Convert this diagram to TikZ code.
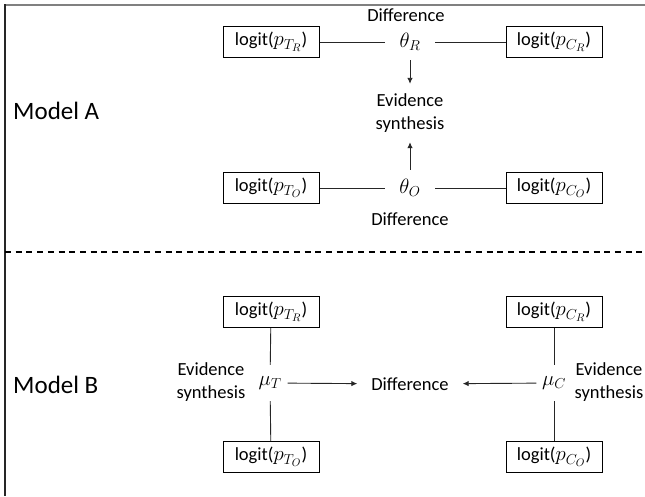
\documentclass[tikz,border=0pt]{standalone}
\usepackage{fontspec}
\setmainfont{Carlito}
\usetikzlibrary{arrows.meta}
\newcommand{\mth}[1]{{\fontsize{21}{23}\selectfont$#1$}}
\tikzset{
  txt/.style={font=\fontsize{18.5}{23}\selectfont, inner sep=0pt, align=center},
  lbox/.style={txt, draw=black, line width=1pt, minimum width=96pt, minimum height=31pt},
  pnode/.style={txt, minimum width=#1, minimum height=36pt},
  model/.style={font=\fontsize{25}{28}\selectfont, inner sep=0pt, anchor=west},
  conn/.style={draw=black!85, line width=0.9pt},
  arr/.style={conn, -{Latex[length=6pt,width=5.5pt]}},
}
\begin{document}
\begin{tikzpicture}[x=1pt,y=-1pt]
\useasboundingbox (0,0) rectangle (645,496);
% frame
\draw[black!50, line width=2pt] (4,5) -- (645,5);
\draw[black!85, line width=1.4pt] (5,4) -- (5,496);
\draw[black, line width=1.2pt, dash pattern=on 6pt off 4.7pt] (5,252) -- (645,252);

\node[model] (mA) at (13,111) {Model A};
\node[model] (mB) at (13,385) {Model B};

% Model A
\node[lbox] (aTR) at (271,42) {logit(\mth{p_{T_R}})};
\node[lbox] (aCR) at (554,42) {logit(\mth{p_{C_R}})};
\node[pnode=50pt] (thR) at (410,42) {\mth{\theta_R}};
\node[txt] (dR) at (406,15) {Difference};
\node[txt, minimum height=58pt] (ev) at (410,113) {Evidence\\synthesis};
\node[lbox] (aTO) at (271,188) {logit(\mth{p_{T_O}})};
\node[lbox] (aCO) at (554,188) {logit(\mth{p_{C_O}})};
\node[pnode=50pt] (thO) at (410,188) {\mth{\theta_O}};
\node[txt] (dO) at (410,219) {Difference};
\draw[conn] (aTR) -- (thR);
\draw[conn] (thR) -- (aCR);
\draw[conn] (aTO) -- (thO);
\draw[conn] (thO) -- (aCO);
\draw[arr] (thR) -- (ev);
\draw[arr] (thO) -- (ev);

% Model B
\node[lbox] (bTR) at (271,312) {logit(\mth{p_{T_R}})};
\node[lbox] (bTO) at (271,457) {logit(\mth{p_{T_O}})};
\node[lbox] (bCR) at (554,312) {logit(\mth{p_{C_R}})};
\node[lbox] (bCO) at (554,457) {logit(\mth{p_{C_O}})};
\node[pnode=35pt] (muT) at (270,383) {\mth{\mu_T}};
\node[pnode=35pt] (muC) at (554,383) {\mth{\mu_C}};
\node[txt, minimum width=105pt] (dB) at (410,384) {Difference};
\node[txt] (esL) at (211,382) {Evidence\\synthesis};
\node[txt] (esR) at (609,382) {Evidence\\synthesis};
\draw[conn] (bTR) -- (muT);
\draw[conn] (muT) -- (bTO);
\draw[conn] (bCR) -- (muC);
\draw[conn] (muC) -- (bCO);
\draw[arr] (muT) -- (dB);
\draw[arr] (muC) -- (dB);
\end{tikzpicture}
\end{document}
